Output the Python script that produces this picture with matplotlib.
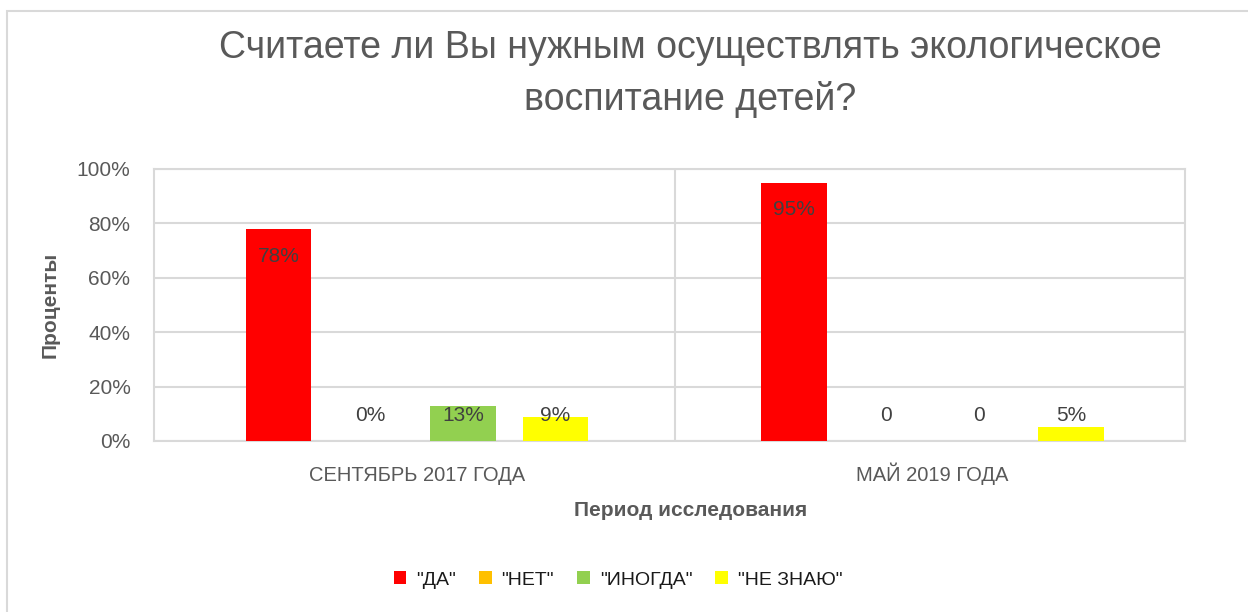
import numpy as np
import matplotlib.pyplot as plt
from matplotlib.patches import Rectangle

plt.rcParams['font.family'] = ['Liberation Sans', 'DejaVu Sans']

periods = ['СЕНТЯБРЬ 2017 ГОДА', 'МАЙ 2019 ГОДА']
answers = ['"ДА"', '"НЕТ"', '"ИНОГДА"', '"НЕ ЗНАЮ"']
values = [[78, 95],   # ДА
          [0, 0],     # НЕТ
          [13, 0],    # ИНОГДА
          [9, 5]]     # НЕ ЗНАЮ
value_labels = [['78%', '95%'],
                ['0%', '0'],
                ['13%', '0'],
                ['9%', '5%']]
colors = ['#FF0000', '#FFC000', '#92D050', '#FFFF00']

grid_c = '#D9D9D9'
text_c = '#595959'

fig = plt.figure(figsize=(12.48, 6.12), dpi=100)
fig.patches.append(Rectangle((7 / 1248, -0.1), 1.2, 1 - 11 / 612 + 0.1,
                             transform=fig.transFigure, fill=False,
                             edgecolor=grid_c, lw=1.5))

ax = fig.add_axes([154 / 1248, 1 - 441 / 612, 1031 / 1248, 272 / 612])

x = np.arange(len(periods))
step = 0.179
width = 0.127
for i, (name, vals) in enumerate(zip(answers, values)):
    pos = x + (i - 1.5) * step
    ax.bar(pos, vals, width, color=colors[i], label=name, zorder=3)
    for px, v, lab in zip(pos, vals, value_labels[i]):
        ax.text(px, max(v - 10, 9.5), lab, ha='center', va='center',
                fontsize=15, color='#404040', zorder=4)

ax.set_xlim(-0.51, 1.49)
ax.set_ylim(0, 100)
ax.set_yticks(np.arange(0, 101, 20))
ax.set_yticklabels([f'{t}%' for t in range(0, 101, 20)])
ax.set_xticks(x)
ax.set_xticklabels(periods)
ax.tick_params(axis='both', length=0, labelsize=15, labelcolor=text_c)
ax.tick_params(axis='y', pad=17)
ax.tick_params(axis='x', pad=29)
for lab in ax.get_xticklabels():
    lab.set_va('baseline')
    lab.set_fontsize(14.5)
ax.yaxis.grid(True, color=grid_c, lw=1.5, zorder=0)
ax.axvline(0.5, color=grid_c, lw=1.5, zorder=0)
for s in ax.spines.values():
    s.set_color(grid_c)
    s.set_linewidth(1.5)

ax.set_ylabel('Проценты', fontsize=15, fontweight='bold', color=text_c, labelpad=12)
fig.text(691 / 1248, 1 - 510 / 612, 'Период исследования', ha='center', va='center',
         fontsize=15, fontweight='bold', color=text_c)

fig.text(690 / 1248, 1 - 48 / 612, 'Считаете ли Вы нужным осуществлять экологическое',
         ha='center', va='center', fontsize=27, color=text_c)
fig.text(690 / 1248, 1 - 100 / 612, 'воспитание детей?',
         ha='center', va='center', fontsize=27, color=text_c)

leg = fig.legend(loc='center', bbox_to_anchor=(618 / 1248, 1 - 580 / 612), ncol=4,
                 frameon=False, fontsize=14, handlelength=0.65, handleheight=0.65,
                 columnspacing=1.2, handletextpad=0.5)
for t in leg.get_texts():
    t.set_color('#1a1a1a')

fig.savefig('out.png', dpi=100)
